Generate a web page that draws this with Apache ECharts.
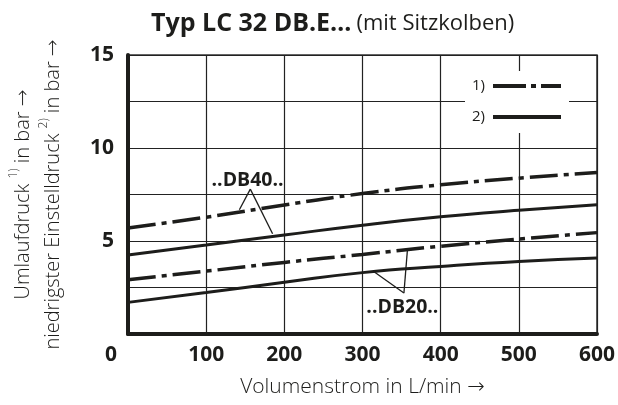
<!DOCTYPE html>
<html>
<head>
<meta charset="utf-8">
<script src="https://cdn.jsdelivr.net/npm/echarts@6/dist/echarts.min.js"></script>
<style>
  html, body { margin: 0; padding: 0; background: #fff; }
  #chart { width: 618px; height: 405px; }
</style>
</head>
<body>
<div id="chart"></div>
<script>
// Volumenstrom (L/min)
const flow = [0, 100, 200, 300, 400, 500, 600]
// ..DB40.. curves
const db40Umlauf = [5.7, 6.28, 6.94, 7.55, 8.02, 8.38, 8.68]
const db40Einstell = [4.25, 4.78, 5.32, 5.85, 6.3, 6.65, 6.95]
// ..DB20.. curves
const db20Umlauf = [2.92, 3.38, 3.85, 4.28, 4.72, 5.1, 5.45]
const db20Einstell = [1.7, 2.23, 2.78, 3.3, 3.63, 3.9, 4.08]
const yTickLabels = [5, 10, 15]

const FONT = '"Open Sans", "DejaVu Sans", sans-serif'
const INK = '#1d1d1b'
const dashDot = [28, 6, 5, 6]

function pairs(ys) {
    return flow.map((x, i) => [x, ys[i]])
}

const chart = echarts.init(document.getElementById('chart'), null, {renderer: 'canvas'})

const leaderStyle = {color: INK, width: 1.3, type: 'solid'}

chart.setOption({
    backgroundColor: '#fff',
    animation: false,
    title: {
        left: 146,
        top: 6,
        text: '{b|Typ LC 32 DB.E…} {n|(mit Sitzkolben)}',
        textStyle: {
            rich: {
                b: {fontFamily: FONT, fontSize: 25, fontWeight: 'bold', color: INK},
                n: {fontFamily: FONT, fontSize: 22, fontWeight: 'normal', color: INK}
            }
        }
    },
    legend: {
        data: [
            {name: '1)', icon: 'path://M0,0H33V4H0Z M38,0H43V4H38Z M48,0H68V4H48Z'},
            {name: '2)', icon: 'path://M0,0H68V4H0Z'}
        ],
        orient: 'vertical',
        left: 465,
        top: 71,
        align: 'right',
        backgroundColor: '#fff',
        padding: [7, 8, 8, 7],
        itemWidth: 68,
        itemHeight: 4,
        itemGap: 15,
        selectedMode: false,
        textStyle: {fontFamily: FONT, fontSize: 15, lineHeight: 16, color: INK, padding: [0, 3, 0, 0]}
    },
    grid: {
        left: 125,
        right: 20,
        top: 55,
        bottom: 71,
        show: true,
        borderColor: '#333',
        borderWidth: 1.5
    },
    xAxis: {
        type: 'value',
        min: 0,
        max: 600,
        interval: 100,
        name: 'Volumenstrom in L/min →',
        nameLocation: 'middle',
        nameGap: 43,
        nameTextStyle: {fontFamily: FONT, fontSize: 21, fontWeight: 300, color: INK},
        axisLine: {show: true, lineStyle: {color: INK, width: 4}},
        axisTick: {show: false},
        splitLine: {show: true, lineStyle: {color: '#222', width: 1.2}},
        axisLabel: {
            margin: 11,
            fontFamily: FONT,
            fontSize: 21,
            fontWeight: 'bold',
            color: INK,
            formatter: v => v === 0 ? '{z|0}' : String(v),
            rich: {
                z: {fontFamily: FONT, fontSize: 21, fontWeight: 'bold', color: INK, padding: [0, 34, 0, 0]}
            }
        }
    },
    yAxis: {
        type: 'value',
        min: 0,
        max: 15,
        interval: 2.5,
        name: '{a|Umlaufdruck }{s|1)}{a| in bar →}\n{a|niedrigster Einstelldruck }{s|2)}{a| in bar →}',
        nameLocation: 'middle',
        nameGap: 60,
        nameTextStyle: {
            rich: {
                a: {fontFamily: FONT, fontSize: 20, fontWeight: 300, color: INK, lineHeight: 30},
                s: {fontFamily: FONT, fontSize: 12, fontWeight: 300, color: INK, verticalAlign: 'top'}
            }
        },
        axisLine: {show: true, lineStyle: {color: INK, width: 4}},
        axisTick: {show: false},
        splitLine: {show: true, lineStyle: {color: '#222', width: 1.2}},
        axisLabel: {
            margin: 14,
            fontFamily: FONT,
            fontSize: 21,
            fontWeight: 'bold',
            color: INK,
            formatter: v => yTickLabels.indexOf(v) >= 0 ? String(v) : ''
        }
    },
    series: [
        {
            name: '1)',
            type: 'line',
            smooth: true,
            symbol: 'none',
            data: pairs(db40Umlauf),
            lineStyle: {color: INK, width: 3.5, type: dashDot},
            itemStyle: {color: INK},
            z: 3,
            markLine: {
                silent: true,
                symbol: 'none',
                label: {show: false},
                lineStyle: leaderStyle,
                data: [
                    [{coord: [156.5, 7.79]}, {coord: [142.5, 6.68]}],
                    [{coord: [156.5, 7.79]}, {coord: [185, 5.39]}]
                ]
            },
            markPoint: {
                silent: true,
                symbol: 'circle',
                symbolSize: 1,
                itemStyle: {color: 'rgba(0,0,0,0)'},
                label: {
                    show: true,
                    position: 'inside',
                    fontFamily: FONT,
                    fontSize: 19.5,
                    fontWeight: 'bold',
                    color: INK,
                    formatter: '..DB40..'
                },
                data: [{coord: [153, 8.25]}]
            }
        },
        {
            name: '2)',
            type: 'line',
            smooth: true,
            symbol: 'none',
            data: pairs(db40Einstell),
            lineStyle: {color: INK, width: 3},
            itemStyle: {color: INK},
            z: 3
        },
        {
            name: '1)',
            type: 'line',
            smooth: true,
            symbol: 'none',
            data: pairs(db20Umlauf),
            lineStyle: {color: INK, width: 3.5, type: dashDot},
            itemStyle: {color: INK},
            z: 3,
            markLine: {
                silent: true,
                symbol: 'none',
                label: {show: false},
                lineStyle: leaderStyle,
                data: [
                    [{coord: [353, 2.2]}, {coord: [357.5, 4.53]}],
                    [{coord: [353, 2.2]}, {coord: [314.3, 3.36]}]
                ]
            },
            markPoint: {
                silent: true,
                symbol: 'circle',
                symbolSize: 1,
                itemStyle: {color: 'rgba(0,0,0,0)'},
                label: {
                    show: true,
                    position: 'inside',
                    fontFamily: FONT,
                    fontSize: 19.5,
                    fontWeight: 'bold',
                    color: INK,
                    formatter: '..DB20..'
                },
                data: [{coord: [351, 1.41]}]
            }
        },
        {
            name: '2)',
            type: 'line',
            smooth: true,
            symbol: 'none',
            data: pairs(db20Einstell),
            lineStyle: {color: INK, width: 3},
            itemStyle: {color: INK},
            z: 3
        }
    ]
})
</script>
</body>
</html>
